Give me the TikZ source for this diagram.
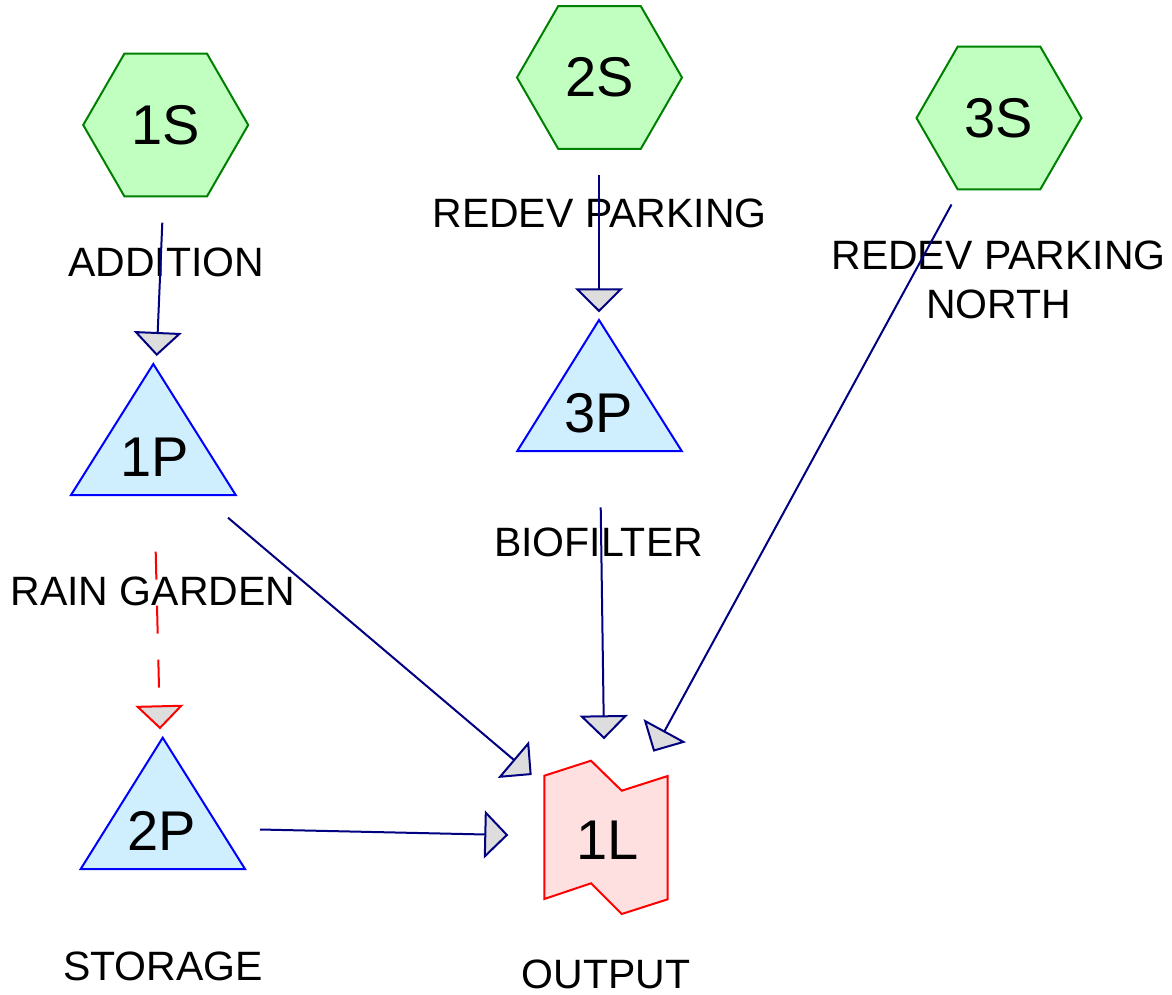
\documentclass[tikz,border=0pt]{standalone}
\usepackage{fontspec}
\setmainfont{Liberation Sans}
\usetikzlibrary{shapes.geometric,arrows.meta}
\definecolor{hexfill}{HTML}{C0FFC0}
\definecolor{hexline}{HTML}{008000}
\definecolor{pondfill}{HTML}{CFEFFF}
\definecolor{pondline}{HTML}{0000FF}
\definecolor{linkfill}{HTML}{FFE0E0}
\definecolor{linkline}{HTML}{FF0000}
\definecolor{edgeline}{HTML}{000080}
\definecolor{tipfill}{HTML}{DDDDDD}
\tikzset{
  hexbox/.style={regular polygon, regular polygon sides=6, minimum size=165pt, inner sep=0pt, outer sep=0pt,
    draw=hexline, fill=hexfill, line width=2pt, font=\fontsize{56pt}{60pt}\selectfont},
  pondbox/.style={draw=pondline, fill=pondfill, line width=2pt, line join=miter},
  linkbox/.style={draw=linkline, fill=linkfill, line width=2pt, line join=miter},
  shapelbl/.style={inner sep=0pt, font=\fontsize{56pt}{60pt}\selectfont},
  lbl/.style={inner sep=0pt, align=center, font=\fontsize{41pt}{49pt}\selectfont},
  flow/.style={draw=edgeline, line width=2pt, -{Triangle[width=48pt,length=24pt,fill=tipfill]}},
  reflow/.style={draw=linkline, line width=2pt, dash pattern=on 28pt off 26pt, -{Triangle[width=48pt,length=24pt,fill=tipfill]}}
}
\begin{document}
\begin{tikzpicture}[x=1pt,y=-1pt]
\useasboundingbox (0,0) rectangle (1172,995);
% subcatchments
\node[hexbox] (s1) at (165.7,125) {1S};
\node[hexbox] (s2) at (599.5,77.5) {2S};
\node[hexbox] (s3) at (999,118) {3S};
% ponds
\path[pondbox] (71,495) -- (153.3,364) -- (235.7,495) -- cycle;
\node[shapelbl] (p1) at (154.5,457) {1P};
\path[pondbox] (80.7,869) -- (162.7,737.7) -- (245,869) -- cycle;
\node[shapelbl] (p2) at (162,831) {2P};
\path[pondbox] (517.3,451) -- (599,320) -- (681.7,451) -- cycle;
\node[shapelbl] (p3) at (599,413) {3P};
% link
\path[linkbox] (544.3,775.7) -- (591,760.7) -- (621.7,790.7) -- (667.7,776) -- (667.7,899.3)
  -- (621.7,914) -- (591,883.3) -- (544.3,899) -- cycle;
\node[shapelbl] (l1) at (607.7,840) {1L};
% labels
\node[lbl] (t1) at (166,262.5) {ADDITION};
\node[lbl] (t2) at (599.5,213) {REDEV PARKING};
\node[lbl] (t3) at (998.5,279.5) {REDEV PARKING\\NORTH};
\node[lbl] (t4) at (153,591.3) {RAIN GARDEN};
\node[lbl] (t5) at (598.5,542) {BIOFILTER};
\node[lbl] (t6) at (163,966) {STORAGE};
\node[lbl] (t7) at (606,974) {OUTPUT};
% connector ends
\coordinate (a1) at (162.3,222.7); \coordinate (b1) at (156.7,356);
\coordinate (a2) at (599,175);     \coordinate (b2) at (599,312.3);
\coordinate (a3) at (228,517.7);   \coordinate (b3) at (531.7,775);
\coordinate (a4) at (260,829.5);   \coordinate (b4) at (508.3,835);
\coordinate (a5) at (600.7,507.3); \coordinate (b5) at (604,739.3);
\coordinate (a6) at (951.5,204.5); \coordinate (b6) at (653.3,751.7);
\coordinate (a7) at (155.7,551.7); \coordinate (b7) at (160,729.3);
% connectors
\draw[flow] (a1) -- (b1);
\draw[flow] (a2) -- (b2);
\draw[flow] (a3) -- (b3);
\draw[flow] (a4) -- (b4);
\draw[flow] (a5) -- (b5);
\draw[flow] (a6) -- (b6);
\draw[reflow] (a7) -- (b7);
\end{tikzpicture}
\end{document}
